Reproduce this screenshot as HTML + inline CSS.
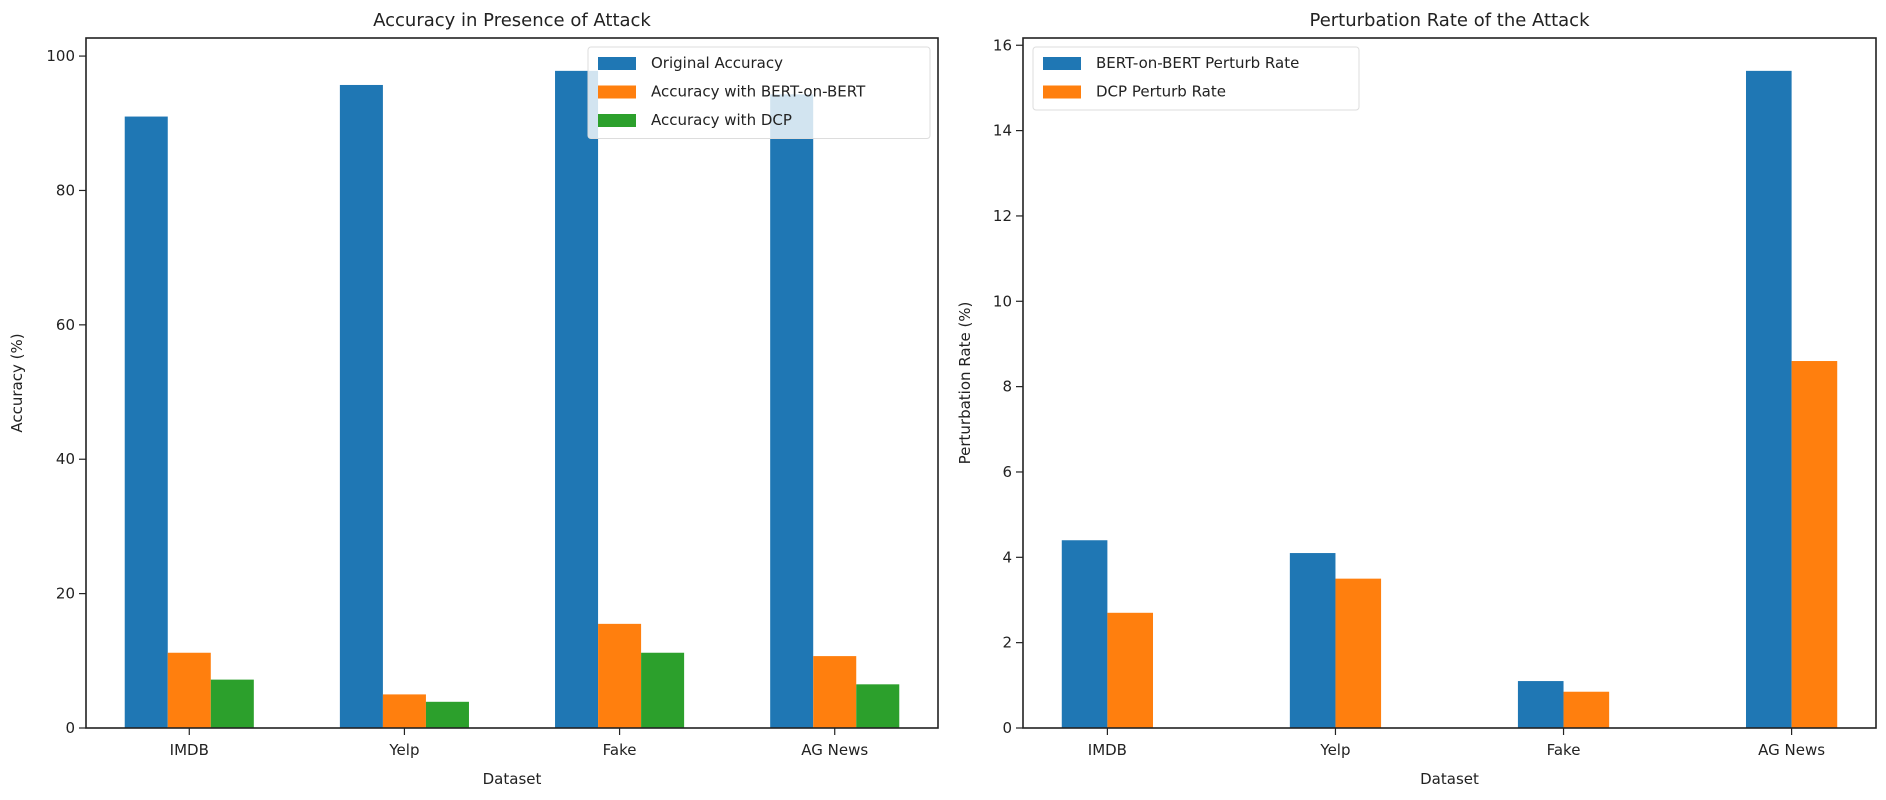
<!DOCTYPE html>
<html><head><meta charset="utf-8"><style>
html,body{margin:0;padding:0;background:#fff;}
svg text{font-family:"DejaVu Sans","Liberation Sans",sans-serif;fill:#222;}
</style></head><body>
<svg id="fig" width="1886" height="795" xmlns="http://www.w3.org/2000/svg">
<g id="left"></g>
<g id="right"></g>
</svg>
<script>
const categories = ["IMDB","Yelp","Fake","AG News"];
const origAcc = [91.0, 95.7, 97.8, 94.3];
const bertAcc = [11.2, 5.0, 15.5, 10.7];
const dcpAcc = [7.2, 3.9, 11.2, 6.5];
const leftTicks = [0,20,40,60,80,100];
const bertRate = [4.4, 4.1, 1.1, 15.4];
const dcpRate = [2.7, 3.5, 0.85, 8.6];
const rightTicks = [0,2,4,6,8,10,12,14,16];

const NS="http://www.w3.org/2000/svg";
function mk(parent,tag,attrs,text){const e=document.createElementNS(NS,tag);for(const k in attrs)e.setAttribute(k,attrs[k]);if(text!==undefined)e.textContent=text;parent.appendChild(e);return e;}

function chart(g,opts){
  const L=opts.left,R=opts.right,T=38,B=728;
  const series=opts.series;
  const all=series.flatMap(s=>s.values);
  const ymax=Math.max(...all)*1.05;
  const y=v=>B-(B-T)*v/ymax;
  const n=series.length,w=0.2;
  const lo=-(n*w)/2,hi=categories.length-1+(n*w)/2,pad=(hi-lo)*0.05;
  const x=v=>L+(v-(lo-pad))/((hi+pad)-(lo-pad))*(R-L);
  series.forEach((s,si)=>{
    s.values.forEach((v,i)=>{
      const x0=x(i+lo+si*w),x1=x(i+lo+(si+1)*w);
      const r=mk(g,'rect',{x:x0,y:y(v),width:x1-x0,height:B-y(v),fill:s.color});
      
      
    });
  });
  mk(g,'rect',{x:L,y:T,width:R-L,height:B-T,fill:'none',stroke:'#222','stroke-width':1.6});
  opts.ticks.forEach(t=>{
    mk(g,'line',{x1:L-7,x2:L,y1:y(t),y2:y(t),stroke:'#222','stroke-width':1.2});
    const tx=mk(g,'text',{x:L-11,y:y(t)+5,'text-anchor':'end','font-size':15},String(t));
    
    
  });
  categories.forEach((c,i)=>{
    mk(g,'line',{x1:x(i),x2:x(i),y1:B,y2:B+7,stroke:'#222','stroke-width':1.2});
    const tx=mk(g,'text',{x:x(i),y:B+27,'text-anchor':'middle','font-size':15},c);
    
    
  });
  const title=mk(g,'text',{x:(L+R)/2,y:26,'text-anchor':'middle','font-size':18},opts.title);
  
  
  const xl=mk(g,'text',{x:(L+R)/2,y:784,'text-anchor':'middle','font-size':15},'Dataset');
  
  
  const yl=mk(g,'text',{x:0,y:0,'text-anchor':'middle','font-size':15,transform:`translate(${opts.ylx},${(T+B)/2}) rotate(-90)`},opts.ylabel);
  
  
  // legend
  const lg=opts.legend;
  const lgBox=mk(g,'rect',{x:lg.x,y:47,width:lg.w,height:series.length*28.5+6,rx:3,fill:'rgba(255,255,255,0.8)',stroke:'#ddd'});
  
  
  series.forEach((s,si)=>{
    const cy=63+si*28.5;
    mk(g,'rect',{x:lg.x+10,y:cy-6,width:38,height:13,fill:s.color});
    const t=mk(g,'text',{x:lg.x+63,y:cy+5,'font-size':15},s.label);
    
    
  });
}
chart(document.getElementById('left'),{left:86,right:938,title:'Accuracy in Presence of Attack',ylabel:'Accuracy (%)',ylx:22,ticks:leftTicks,
  legend:{x:588,w:342},
  series:[{key:'original',label:'Original Accuracy',color:'#1f77b4',values:origAcc},
          {key:'bert',label:'Accuracy with BERT-on-BERT',color:'#ff7f0e',values:bertAcc},
          {key:'dcp',label:'Accuracy with DCP',color:'#2ca02c',values:dcpAcc}]});
chart(document.getElementById('right'),{left:1023,right:1876,title:'Perturbation Rate of the Attack',ylabel:'Perturbation Rate (%)',ylx:970,ticks:rightTicks,
  legend:{x:1033,w:326},
  series:[{key:'bert-rate',label:'BERT-on-BERT Perturb Rate',color:'#1f77b4',values:bertRate},
          {key:'dcp-rate',label:'DCP Perturb Rate',color:'#ff7f0e',values:dcpRate}]});
</script>
</body></html>
